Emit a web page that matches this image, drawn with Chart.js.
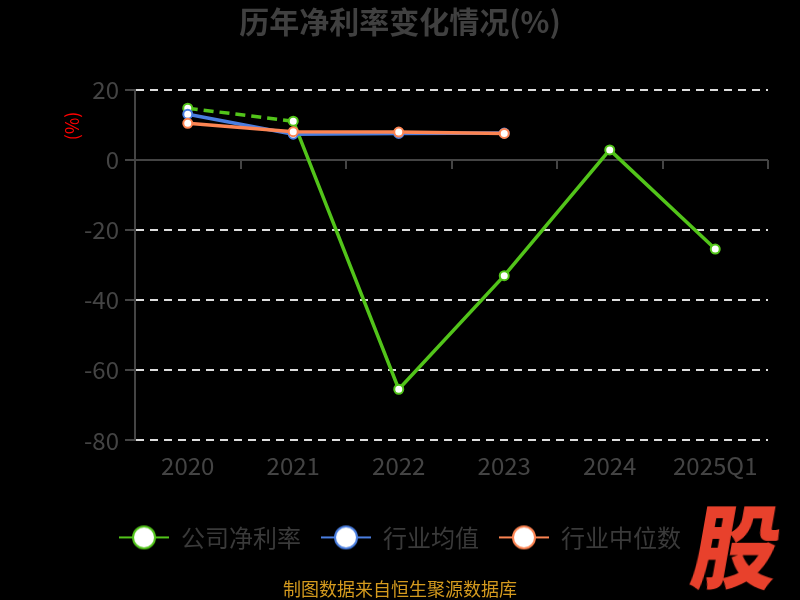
<!DOCTYPE html>
<html>
<head>
<meta charset="utf-8">
<script src="https://cdn.jsdelivr.net/npm/chart.js@4/dist/chart.umd.min.js"></script>
<style>
  body { margin: 0; background: #000; }
  #wrap { position: relative; width: 800px; height: 600px; }
  #logo {
    position: absolute; left: 695px; top: 492px;
    font-family: "Noto Sans CJK SC", sans-serif; font-weight: 900;
    font-size: 86px; line-height: 100px; color: #e8412c;
    transform: skewX(-10deg) scaleY(1.05);
  }
</style>
</head>
<body>
<div id="wrap">
  <canvas id="rateChart" width="800" height="600"></canvas>
  <div id="logo">股</div>
</div>
<script>
const years = ['2020', '2021', '2022', '2023', '2024', '2025Q1'];
const companyRate = [14.8, 11.1, -65.4, -33.0, 2.9, -25.4];
const industryAvg = [13.1, 7.4, 7.6, 7.7, null, null];
const industryMedian = [10.5, 8.1, 8.0, 7.6, null, null];

const GREEN = '#52c41a';
const BLUE = '#4a7ee0';
const ORANGE = '#fc8452';
const FONT = '"Noto Sans CJK SC", "Noto Sans", sans-serif';

// legend marker: short line with a big hollow circle
function legendIcon(color) {
    const c = document.createElement('canvas');
    c.width = 50; c.height = 26;
    const g = c.getContext('2d');
    g.strokeStyle = color;
    g.lineWidth = 2;
    g.beginPath(); g.moveTo(0, 13); g.lineTo(50, 13); g.stroke();
    g.beginPath(); g.arc(25, 13, 11, 0, Math.PI * 2);
    g.fillStyle = '#fff'; g.fill(); g.stroke();
    return c;
}

// zero line, category ticks under it and the red unit label
const extras = {
    id: 'extras',
    beforeDatasetsDraw(chart) {
        const { ctx, scales: { x, y } } = chart;
        const y0 = y.getPixelForValue(0);
        ctx.save();
        ctx.strokeStyle = '#444';
        ctx.lineWidth = 2;
        ctx.beginPath();
        ctx.moveTo(x.left, y0); ctx.lineTo(x.right, y0);
        const step = (x.right - x.left) / years.length;
        for (let i = 1; i <= years.length; i++) {
            const px = Math.round(x.left + i * step);
            ctx.moveTo(px, y0); ctx.lineTo(px, y0 + 9);
        }
        ctx.stroke();
        ctx.restore();
    },
    afterDraw(chart) {
        const { ctx } = chart;
        ctx.save();
        ctx.translate(72, 126);
        ctx.rotate(-Math.PI / 2);
        ctx.fillStyle = '#ff0000';
        ctx.font = '18px ' + FONT;
        ctx.textAlign = 'center';
        ctx.textBaseline = 'middle';
        ctx.fillText('(%)', 0, 0);
        ctx.restore();
    }
};

const ctx = document.getElementById('rateChart').getContext('2d');
new Chart(ctx, {
    type: 'line',
    data: {
        labels: years,
        datasets: [
            {
                label: '公司净利率',
                data: companyRate,
                borderColor: GREEN,
                order: 3,
                segment: { borderDash: c => c.p0DataIndex === 0 ? [10, 6] : undefined }
            },
            { label: '行业均值', data: industryAvg, borderColor: BLUE, order: 2 },
            { label: '行业中位数', data: industryMedian, borderColor: ORANGE, order: 1 }
        ].map(d => Object.assign({
            borderWidth: 3.5,
            pointRadius: 4.5,
            pointBorderWidth: 2,
            pointBackgroundColor: '#fff',
            pointBorderColor: d.borderColor,
            tension: 0,
            spanGaps: false
        }, d))
    },
    options: {
        responsive: false,
        animation: false,
        layout: { padding: 0 },
        scales: {
            x: {
                offset: true,
                grid: { display: false },
                border: { display: false },
                ticks: { color: '#444', font: { size: 24, family: FONT }, padding: 3 },
                afterFit: s => { s.height = 65; }
            },
            y: {
                min: -80,
                max: 20,
                ticks: { stepSize: 20, color: '#444', font: { size: 24, family: FONT }, padding: 6 },
                grid: {
                    color: c => c.tick.value === 0 ? 'transparent' : '#ddd',
                    lineWidth: 2,
                    tickColor: '#444',
                    tickLength: 10
                },
                border: { display: true, color: '#444', width: 2, dash: [8, 6] },
                afterFit: s => { s.width = 135; }
            },
            // empty right-hand gutter so title and legend stay centred on the canvas
            yGutter: {
                position: 'right',
                display: true,
                grid: { display: false },
                border: { display: false },
                ticks: { display: false },
                afterFit: s => { s.width = 32; }
            }
        },
        plugins: {
            title: {
                display: true,
                text: '历年净利率变化情况(%)',
                color: '#404040',
                font: { size: 30, weight: 'bold', family: FONT },
                padding: { top: 4, bottom: 50 }
            },
            subtitle: {
                display: true,
                position: 'bottom',
                text: '制图数据来自恒生聚源数据库',
                color: '#d49a1e',
                font: { size: 18, family: FONT },
                padding: { top: 19, bottom: 0 }
            },
            legend: {
                position: 'bottom',
                labels: {
                    usePointStyle: true,
                    pointStyleWidth: 50,
                    padding: 20,
                    color: '#3a3a3a',
                    font: { size: 24, family: FONT },
                    sort: (a, b) => a.datasetIndex - b.datasetIndex,
                    generateLabels(chart) {
                        return chart.data.datasets.map((d, i) => ({
                            text: d.label,
                            datasetIndex: i,
                            pointStyle: legendIcon(d.borderColor),
                            fontColor: '#3a3a3a',
                            strokeStyle: d.borderColor,
                            fillStyle: '#fff',
                            lineWidth: 0,
                            hidden: !chart.isDatasetVisible(i)
                        }));
                    }
                }
            },
            tooltip: { enabled: false }
        }
    },
    plugins: [extras]
});
</script>
</body>
</html>
